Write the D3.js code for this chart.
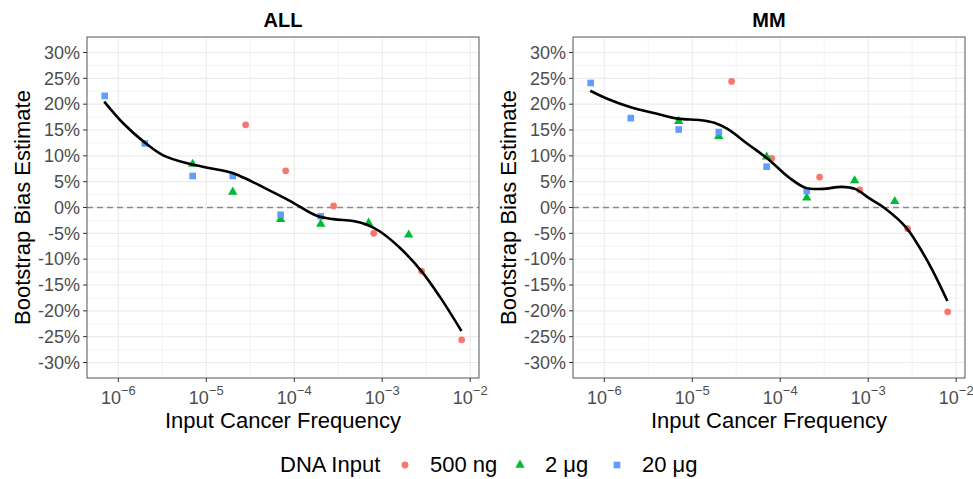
<!DOCTYPE html>
<html>
<head>
<meta charset="utf-8">
<script src="https://cdn.jsdelivr.net/npm/d3@7"></script>
<style>
  body { margin: 0; background: #fff; }
  svg { font-family: "Liberation Sans", Arial, sans-serif; }
</style>
</head>
<body>
<svg id="chart" width="973" height="479"></svg>
<script>
// ---- data ----
var panels = ["ALL", "MM"];
var groups = ["500 ng", "2 μg", "20 μg"];
var groupColors = ["#F8766D", "#00BA38", "#619CFF"];

var freq500 = [2.8e-5, 8e-5, 2.8e-4, 8e-4, 2.8e-3, 8e-3];
var freq2 = [7e-6, 2e-5, 7e-5, 2e-4, 7e-4, 2e-3];
var freq20 = [7e-7, 2e-6, 7e-6, 2e-5, 7e-5, 2e-4];

var all500 = [0.160, 0.071, 0.003, -0.050, -0.123, -0.256];
var all2 = [0.084, 0.030, -0.023, -0.032, -0.030, -0.053];
var all20 = [0.216, 0.124, 0.061, 0.061, -0.014, -0.017];

var mm500 = [0.244, 0.095, 0.059, 0.034, -0.041, -0.202];
var mm2 = [0.167, 0.138, 0.098, 0.019, 0.052, 0.012];
var mm20 = [0.241, 0.173, 0.151, 0.146, 0.079, 0.032];

// smooth fit, log10 frequency vs estimate
var allFitX = [-6.16, -5.945, -5.716, -5.49, -5.18, -4.955, -4.73, -4.58, -4.35, -4.05, -3.745, -3.557, -3.33, -3.18, -3.03, -2.80, -2.55, -2.34, -2.10];
var allFitY = [0.205, 0.163, 0.128, 0.101, 0.084, 0.076, 0.068, 0.058, 0.039, 0.013, -0.016, -0.0225, -0.026, -0.033, -0.046, -0.078, -0.124, -0.174, -0.239];
var mmFitX = [-6.16, -5.96, -5.70, -5.39, -5.165, -4.90, -4.75, -4.60, -4.37, -4.14, -3.90, -3.71, -3.52, -3.30, -3.15, -2.99, -2.80, -2.568, -2.416, -2.265, -2.10];
var mmFitY = [0.226, 0.210, 0.194, 0.181, 0.172, 0.169, 0.164, 0.152, 0.123, 0.094, 0.058, 0.038, 0.036, 0.040, 0.036, 0.018, -0.003, -0.039, -0.0775, -0.123, -0.181];

var yTicks = [-0.3, -0.25, -0.2, -0.15, -0.1, -0.05, 0, 0.05, 0.1, 0.15, 0.2, 0.25, 0.3];
var xTickExp = [-6, -5, -4, -3, -2];

var panelData = [
  {name: panels[0], left: 87, vals: [all500, all2, all20], fitX: allFitX, fitY: allFitY},
  {name: panels[1], left: 573, vals: [mm500, mm2, mm20], fitX: mmFitX, fitY: mmFitY}
];
var freqs = [freq500, freq2, freq20];

// ---- layout ----
var panelW = 392, plotTop = 37, plotBottom = 378;
var svg = d3.select("#chart");
var locale = d3.formatLocale({decimal: ".", thousands: ",", grouping: [3], currency: ["$", ""], minus: "-"});
var pct = locale.format(".0%");

var y = d3.scaleLinear().domain([-0.33, 0.33]).range([plotBottom, plotTop]);

function symbolFor(i) {
  if (i == 0) return d3.symbol().type(d3.symbolCircle).size(36)();
  if (i == 1) return d3.symbol().type(d3.symbolTriangle).size(38)();
  return d3.symbol().type(d3.symbolSquare).size(44)();
}

panelData.forEach(function(p) {
  var x = d3.scaleLog()
    .domain([Math.pow(10, -6.356), Math.pow(10, -1.90)])
    .range([p.left, p.left + panelW]);

  var g = svg.append("g");

  // grid
  var minorX = [-6.5, -5.5, -4.5, -3.5, -2.5].map(function(e) { return Math.pow(10, e); })
    .filter(function(v) { return v > x.domain()[0] && v < x.domain()[1]; });
  g.selectAll(".minx").data(minorX).enter().append("line")
    .attr("x1", function(d) { return x(d); }).attr("x2", function(d) { return x(d); })
    .attr("y1", plotTop).attr("y2", plotBottom)
    .attr("stroke", "#EBEBEB").attr("stroke-width", 0.6);
  var minorY = yTicks.slice(1).map(function(d) { return d - 0.025; });
  g.selectAll(".miny").data(minorY).enter().append("line")
    .attr("x1", p.left).attr("x2", p.left + panelW)
    .attr("y1", function(d) { return y(d); }).attr("y2", function(d) { return y(d); })
    .attr("stroke", "#EBEBEB").attr("stroke-width", 0.6);
  g.selectAll(".majx").data(xTickExp).enter().append("line")
    .attr("x1", function(d) { return x(Math.pow(10, d)); }).attr("x2", function(d) { return x(Math.pow(10, d)); })
    .attr("y1", plotTop).attr("y2", plotBottom)
    .attr("stroke", "#EBEBEB").attr("stroke-width", 1.1);
  g.selectAll(".majy").data(yTicks).enter().append("line")
    .attr("x1", p.left).attr("x2", p.left + panelW)
    .attr("y1", function(d) { return y(d); }).attr("y2", function(d) { return y(d); })
    .attr("stroke", "#EBEBEB").attr("stroke-width", 1.1);

  // zero line
  g.append("line")
    .attr("x1", p.left).attr("x2", p.left + panelW)
    .attr("y1", y(0)).attr("y2", y(0))
    .attr("stroke", "#8C8C8C").attr("stroke-width", 1.5)
    .attr("stroke-dasharray", "6,4");

  // points
  freqs.forEach(function(f, gi) {
    g.selectAll(".pt" + gi).data(f).enter().append("path")
      .attr("d", symbolFor(gi))
      .attr("transform", function(d, i) { return "translate(" + x(d) + "," + y(p.vals[gi][i]) + ")"; })
      .attr("fill", groupColors[gi]);
  });

  // fit line
  var line = d3.line()
    .x(function(d) { return x(Math.pow(10, d[0])); })
    .y(function(d) { return y(d[1]); })
    .curve(d3.curveCatmullRom);
  g.append("path")
    .datum(d3.zip(p.fitX, p.fitY))
    .attr("d", line)
    .attr("fill", "none").attr("stroke", "#000").attr("stroke-width", 2.6);

  // border
  g.append("rect")
    .attr("x", p.left).attr("y", plotTop).attr("width", panelW).attr("height", plotBottom - plotTop)
    .attr("fill", "none").attr("stroke", "#555").attr("stroke-width", 1);

  // y axis
  g.selectAll(".yt").data(yTicks).enter().append("line")
    .attr("x1", p.left - 4).attr("x2", p.left)
    .attr("y1", function(d) { return y(d); }).attr("y2", function(d) { return y(d); })
    .attr("stroke", "#333");
  g.selectAll(".yl").data(yTicks).enter().append("text")
    .attr("x", p.left - 7).attr("y", function(d) { return y(d); })
    .attr("dy", "0.35em").attr("text-anchor", "end")
    .attr("font-size", 18).attr("fill", "#4D4D4D")
    .text(function(d) { return pct(d); });

  // x axis
  g.selectAll(".xt").data(xTickExp).enter().append("line")
    .attr("x1", function(d) { return x(Math.pow(10, d)); }).attr("x2", function(d) { return x(Math.pow(10, d)); })
    .attr("y1", plotBottom).attr("y2", plotBottom + 4)
    .attr("stroke", "#333");
  var xl = g.selectAll(".xl").data(xTickExp).enter().append("text")
    .attr("x", function(d) { return x(Math.pow(10, d)); }).attr("y", 404)
    .attr("text-anchor", "middle")
    .attr("font-size", 18).attr("fill", "#4D4D4D");
  xl.append("tspan").text("10");
  xl.append("tspan").attr("font-size", 13).attr("dy", -9).text(function(d) { return "−" + (-d); });

  // titles
  g.append("text")
    .attr("x", p.left + panelW / 2).attr("y", 27)
    .attr("text-anchor", "middle").attr("font-size", 20).attr("font-weight", "bold")
    .text(p.name);
  g.append("text")
    .attr("x", p.left + panelW / 2).attr("y", 428)
    .attr("text-anchor", "middle").attr("font-size", 22)
    .text("Input Cancer Frequency");
  g.append("text")
    .attr("transform", "translate(" + (p.left - 57) + "," + ((plotTop + plotBottom) / 2) + ") rotate(-90)")
    .attr("text-anchor", "middle").attr("font-size", 22)
    .text("Bootstrap Bias Estimate");
});

// legend
var legend = svg.append("g");
legend.append("text").attr("x", 280).attr("y", 472).attr("font-size", 22).text("DNA Input");
var legX = [405, 520, 617];
groups.forEach(function(name, i) {
  legend.append("path")
    .attr("d", symbolFor(i))
    .attr("transform", "translate(" + legX[i] + "," + 465 + ")")
    .attr("fill", groupColors[i]);
  legend.append("text")
    .attr("x", legX[i] + 25).attr("y", 472)
    .attr("font-size", 22)
    .text(name);
});
</script>
</body>
</html>
